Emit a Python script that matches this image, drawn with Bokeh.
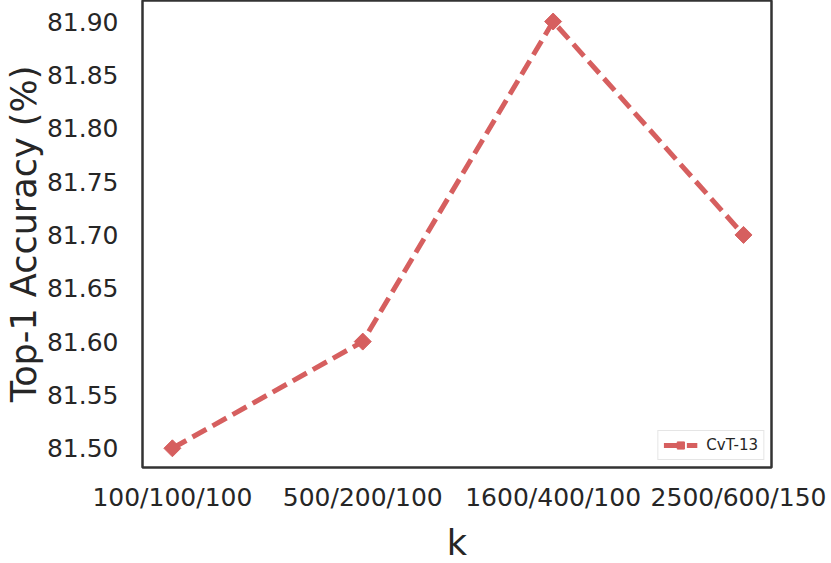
from bokeh.plotting import figure
from bokeh.models import Range1d, FixedTicker, NumeralTickFormatter, Legend, LegendItem
from bokeh.embed import file_html
from bokeh.resources import INLINE
import math

categories = ["100/100/100", "500/200/100", "1600/400/100", "2500/600/150"]
accuracy = [81.50, 81.60, 81.90, 81.70]
y_ticks = [81.50, 81.55, 81.60, 81.65, 81.70, 81.75, 81.80, 81.85, 81.90]
series_name = "CvT-13"

xs = list(range(len(categories)))
color = "#d65f5f"
text_color = "#262626"

p = figure(frame_width=629, frame_height=467, width=815, height=547,
           output_backend="svg", toolbar_location=None,
           x_range=Range1d(-0.157, 3.147), y_range=Range1d(81.482, 81.9197),
           min_border_left=110, min_border_right=55, min_border_top=0, min_border_bottom=80)

p.background_fill_color = "white"
p.border_fill_color = "white"
p.outline_line_color = "#333333"
p.outline_line_width = 2.5
p.grid.visible = False

line = p.line(xs, accuracy, line_color=color, line_width=5, line_dash="16 7")
pts = p.scatter(xs, accuracy, marker="square", angle=math.pi/4, size=12,
                fill_color=color, line_color=color)

p.xaxis.ticker = FixedTicker(ticks=xs)
p.xaxis.major_label_overrides = {i: c for i, c in zip(xs, categories)}
p.yaxis.ticker = FixedTicker(ticks=y_ticks)
p.yaxis.formatter = NumeralTickFormatter(format="0.00")

for ax in (p.xaxis[0], p.yaxis[0]):
    ax.axis_line_color = None
    ax.major_tick_line_color = None
    ax.minor_tick_line_color = None
    ax.major_label_text_font = "DejaVu Sans"
    ax.major_label_text_font_size = "25px"
    ax.major_label_text_color = text_color
    ax.axis_label_text_font = "DejaVu Sans"
    ax.axis_label_text_font_size = "35px"
    ax.axis_label_text_font_style = "normal"
    ax.axis_label_text_color = text_color
    ax.axis_label_text_line_height = 1.0

p.xaxis.axis_label = "k"
p.yaxis.axis_label = "Top-1 Accuracy (%)"
p.xaxis.major_label_standoff = 9
p.yaxis.major_label_standoff = 18
p.xaxis.axis_label_standoff = 8
p.yaxis.axis_label_standoff = 0

legend = Legend(items=[LegendItem(label=series_name, renderers=[line, pts])],
                location="bottom_right")
legend.margin = 7
legend.padding = 5
legend.spacing = 0
legend.glyph_width = 34
legend.glyph_height = 18
legend.label_standoff = 9
legend.label_text_font = "DejaVu Sans"
legend.label_text_font_size = "15px"
legend.label_text_color = text_color
legend.border_line_color = "#cccccc"
legend.border_line_width = 1.5
legend.background_fill_alpha = 0.8
p.add_layout(legend)

open("out.html", "w").write(file_html(p, INLINE))
